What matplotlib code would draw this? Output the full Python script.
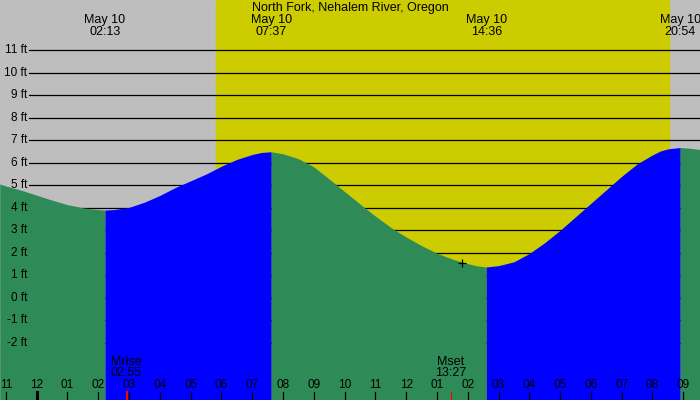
import matplotlib
matplotlib.use("Agg")
import matplotlib.pyplot as plt

#Tide station and day shown
stationName = "North Fork, Nehalem River, Oregon"
dayLabel = "May 10"

#Tide height (ft), time in hours from midnight of May 10
tideHours = [-1.2, -1.0, -0.5, 0.0, 0.5, 1.0, 1.5, 2.0, 2.217, 2.5, 3.0, 3.5, 4.0, 4.5,
             5.0, 5.5, 6.0, 6.5, 7.0, 7.3, 7.617, 8.0, 8.5, 9.0, 9.5, 10.0, 10.5, 11.0,
             11.5, 12.0, 12.5, 13.0, 13.5, 14.0, 14.3, 14.6, 15.0, 15.5, 16.0, 16.5,
             17.0, 17.5, 18.0, 18.5, 19.0, 19.5, 20.0, 20.25, 20.5, 20.9, 21.2, 21.6]
tideFeet = [5.06, 4.97, 4.78, 4.56, 4.34, 4.14, 4.0, 3.92, 3.9, 3.92, 4.02, 4.25, 4.55, 4.9,
            5.2, 5.5, 5.85, 6.15, 6.37, 6.46, 6.49, 6.40, 6.18, 5.82, 5.28, 4.72, 4.17, 3.63,
            3.13, 2.70, 2.32, 1.98, 1.72, 1.52, 1.42, 1.37, 1.43, 1.6, 1.97, 2.45,
            3.0, 3.6, 4.2, 4.8, 5.4, 5.95, 6.35, 6.52, 6.62, 6.68, 6.65, 6.58]

#High and low tide times (labels at the top)
extremeTimes = ["02:13", "07:37", "14:36", "20:54"]

#Sun and moon
sunrise = "05:49"
sunset = "20:32"
moonrise = "02:55"
moonset = "13:27"

#Current time marker
nowHour = 13.81
nowFeet = 1.55

#Axis grid
feetLevels = list(range(-2, 12))
clockHours = list(range(-1, 22))


def ToHours(text):
    #"HH:MM" -> decimal hours
    hh, mm = text.split(":")
    return int(hh) + int(mm) / 60.0


def HourLabel(h):
    #12 hour clock label without am/pm
    h12 = h % 12
    if h12 == 0:
        h12 = 12
    return "%02d" % h12


plt.rcParams['font.family'] = ['Liberation Sans', 'DejaVu Sans']

fig = plt.figure(figsize=(7, 4), dpi=100)
ax = fig.add_axes([0, 0, 1, 1])
ax.set_xlim(-1.192, 21.543)
ax.set_ylim(-4.542, 13.236)
ax.axis('off')

#Night / day background
ax.axvspan(-2, 23, color='#bebebe', zorder=0)
ax.axvspan(ToHours(sunrise), ToHours(sunset), color='#cccc00', zorder=0.5)

#Feet gridlines
for f in feetLevels:
    ax.axhline(f, xmin=29 / 700.0, xmax=1, color='black', lw=0.9, zorder=1)
    ax.text(27 / 700.0, f, "%d ft" % f, transform=ax.get_yaxis_transform(),
            ha='right', va='center', fontsize=8.5, zorder=5)

#Water, green when falling and blue when rising
bounds = [tideHours[0]] + [ToHours(t) for t in extremeTimes] + [tideHours[-1]]
fillColors = ['#2e8b57', '#0000ff', '#2e8b57', '#0000ff', '#2e8b57']
for i in range(len(bounds) - 1):
    xs = []
    ys = []
    for h, f in zip(tideHours, tideFeet):
        if bounds[i] - 0.01 <= h <= bounds[i + 1] + 0.01:
            xs.append(h)
            ys.append(f)
    ax.fill_between(xs, ys, -5, color=fillColors[i], lw=0, antialiased=False, zorder=2)

#Hour ticks and labels along the bottom
xt = ax.get_xaxis_transform()
for h in clockHours:
    lw = 2.2 if h == 0 else 0.9
    ax.plot([h, h], [0, 8 / 400.0], transform=xt, color='black', lw=lw, zorder=3)
    ax.text(h, 1 - 385.5 / 400.0, HourLabel(h), transform=xt,
            ha='center', va='center', fontsize=8.5, zorder=5)

#Moon rise / set
for name, t, lw in [("Mrise", moonrise, 1.5), ("Mset", moonset, 0.8)]:
    mh = ToHours(t)
    ax.plot([mh, mh], [0, 8 / 400.0], transform=xt, color='red', lw=lw, zorder=4)
    ax.text(mh, 1 - 361.7 / 400.0, name, transform=xt, ha='center', va='center',
            fontsize=9, zorder=5)
    ax.text(mh, 1 - 373.5 / 400.0, t, transform=xt, ha='center', va='center',
            fontsize=9, zorder=5)

#High / low tide labels
for t in extremeTimes:
    eh = ToHours(t)
    ax.text(eh, 1 - 19.7 / 400.0, dayLabel, transform=xt, ha='center', va='center',
            fontsize=9, zorder=5)
    ax.text(eh, 1 - 31.7 / 400.0, t, transform=xt, ha='center', va='center',
            fontsize=9, zorder=5)

ax.text(0.5, 1 - 7.5 / 400.0, stationName, transform=ax.transAxes,
        ha='center', va='center', fontsize=9, zorder=5)

#Current time
ax.plot(nowHour, nowFeet, marker='+', color='black', markersize=6, mew=0.9, zorder=4)

fig.savefig("out.png", dpi=100)
